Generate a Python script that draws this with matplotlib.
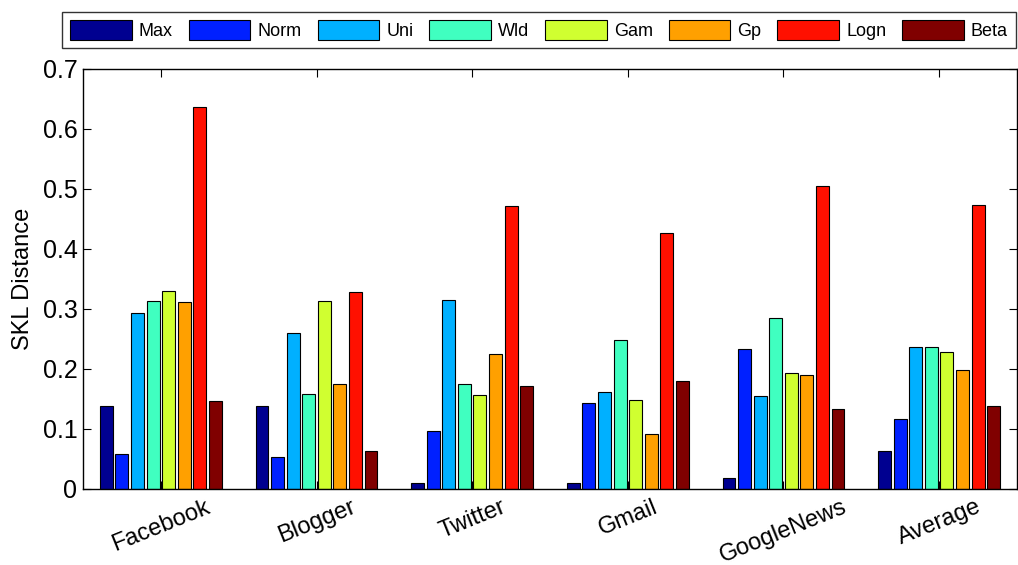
import numpy as np
import matplotlib
matplotlib.use("Agg")
import matplotlib.pyplot as plt

plt.rcParams["font.family"] = ["Liberation Sans", "DejaVu Sans"]

groups = ["Facebook", "Blogger", "Twitter", "Gmail", "GoogleNews", "Average"]
series = ["Max", "Norm", "Uni", "Wld", "Gam", "Gp", "Logn", "Beta"]
v_max = [0.138, 0.138, 0.010, 0.010, 0.018, 0.063]
v_norm = [0.058, 0.053, 0.097, 0.143, 0.233, 0.117]
v_uni = [0.293, 0.260, 0.315, 0.162, 0.155, 0.237]
v_wld = [0.313, 0.158, 0.175, 0.248, 0.285, 0.237]
v_gam = [0.330, 0.313, 0.157, 0.148, 0.193, 0.228]
v_gp = [0.312, 0.175, 0.225, 0.092, 0.190, 0.198]
v_logn = [0.637, 0.328, 0.472, 0.427, 0.505, 0.473]
v_beta = [0.147, 0.063, 0.172, 0.180, 0.133, 0.138]
values = [v_max, v_norm, v_uni, v_wld, v_gam, v_gp, v_logn, v_beta]
colors = ["#000090", "#0020FF", "#00B0FF", "#40FFC0",
          "#D0FF30", "#FFA000", "#FF1000", "#800000"]

W, H = 1018, 565
fig = plt.figure(figsize=(W / 100, H / 100), dpi=100)
ax = fig.add_axes([83 / W, 1 - 489 / H, 934 / W, 420 / H])

x = np.arange(1, len(groups) + 1)
slot = 0.1
bw = 0.083
for i, (name, vals, c) in enumerate(zip(series, values, colors)):
    off = (i - 3.5) * slot
    ax.bar(x + off, vals, width=bw, color=c, edgecolor="black",
           linewidth=0.8, label=name)

ax.set_xlim(0.5, 6.5)
ax.set_ylim(0, 0.7)
ax.set_yticks(np.arange(0, 0.71, 0.1))
ax.set_yticklabels(["0"] + [f"{t:.1f}" for t in np.arange(0.1, 0.71, 0.1)])
ax.set_xticks(x)
ax.set_xticklabels(groups, rotation=22, ha="center", fontsize=17)
ax.tick_params(axis="y", labelsize=18, direction="in", right=True, length=6, pad=4)
ax.tick_params(axis="x", direction="in", top=True, length=6, pad=5)
ax.set_ylabel("SKL Distance", fontsize=17, labelpad=6)
for s in ax.spines.values():
    s.set_linewidth(1.0)

handles, labels = ax.get_legend_handles_labels()
leg = fig.legend(handles, labels, ncol=8, loc="lower left",
                 bbox_to_anchor=(62 / W, 1 - 48 / H, 954 / W, 40 / H),
                 mode="expand", prop={"size": 13},
                 frameon=True, fancybox=False, edgecolor="black",
                 handlelength=3.4, handleheight=1.3, columnspacing=0.6,
                 handletextpad=0.4, borderpad=0.45, borderaxespad=0)
leg.get_frame().set_linewidth(1.0)

fig.savefig("out.png", dpi=100)
